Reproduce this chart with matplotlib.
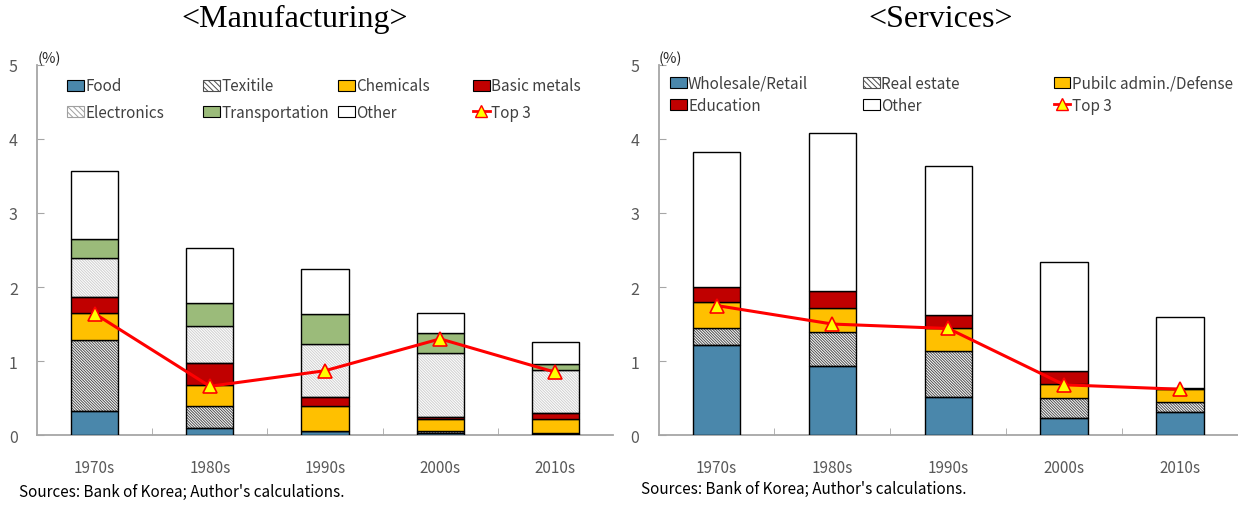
import numpy as np
import matplotlib
matplotlib.use("Agg")
import matplotlib.pyplot as plt
from matplotlib.patches import Patch
from matplotlib.lines import Line2D

plt.rcParams['font.family'] = ['Noto Sans CJK KR', 'DejaVu Sans']
plt.rcParams['hatch.linewidth'] = 0.7

decades = ['1970s', '1980s', '1990s', '2000s', '2010s']

# Manufacturing (stacked contributions, %)
food = [0.33, 0.10, 0.06, 0.03, 0.01]
textile = [0.95, 0.29, 0.00, 0.03, 0.02]
chemicals = [0.37, 0.29, 0.34, 0.16, 0.19]
basic_metals = [0.21, 0.29, 0.11, 0.03, 0.08]
electronics = [0.53, 0.50, 0.72, 0.86, 0.58]
transportation = [0.26, 0.31, 0.40, 0.27, 0.08]
other_mfg = [0.92, 0.75, 0.61, 0.27, 0.30]
top3_mfg = [1.64, 0.66, 0.87, 1.30, 0.85]

# Services (stacked contributions, %)
wholesale = [1.22, 0.94, 0.51, 0.23, 0.31]
real_estate = [0.22, 0.45, 0.62, 0.27, 0.14]
public_admin = [0.36, 0.32, 0.31, 0.19, 0.17]
education = [0.20, 0.23, 0.18, 0.18, 0.02]
other_svc = [1.82, 2.14, 2.01, 1.47, 0.96]
top3_svc = [1.75, 1.50, 1.44, 0.68, 0.62]

BLUE = '#4a87ab'
YELLOW = '#ffc000'
RED = '#c00000'
GREEN = '#9bbb7a'
TICKC = '#595959'
SPINEC = '#a6a6a6'
DENSE = '\\' * 12

# (label, values, face, hatch, hatch colour)
mfg_series = [
    ('Food', food, BLUE, None, None),
    ('Texitile', textile, 'white', DENSE, '#4d4d4d'),
    ('Chemicals', chemicals, YELLOW, None, None),
    ('Basic metals', basic_metals, RED, None, None),
    ('Electronics', electronics, 'white', DENSE, '#cfcfcf'),
    ('Transportation', transportation, GREEN, None, None),
    ('Other', other_mfg, 'white', None, None),
]
svc_series = [
    ('Wholesale/Retail', wholesale, BLUE, None, None),
    ('Real estate', real_estate, 'white', DENSE, '#4d4d4d'),
    ('Pubilc admin./Defense', public_admin, YELLOW, None, None),
    ('Education', education, RED, None, None),
    ('Other', other_svc, 'white', None, None),
]

fig = plt.figure(figsize=(12.38, 5.06), dpi=100)
ax1 = fig.add_axes([0.030, 0.138, 0.465, 0.732])
ax2 = fig.add_axes([0.532, 0.138, 0.468, 0.732])


def handle_for(face, hatch, hcol):
    if hatch:
        return Patch(facecolor='white', edgecolor=hcol if hcol != '#cfcfcf' else '#a0a0a0',
                     hatch='\\' * 6, linewidth=0.8)
    return Patch(facecolor=face, edgecolor='black', linewidth=0.8)


def draw_panel(ax, series, top3):
    x = np.arange(len(decades))
    bottom = np.zeros(len(decades))
    handles = []
    for label, vals, face, hatch, hcol in series:
        vals = np.array(vals)
        if hatch:
            ax.bar(x, vals, 0.41, bottom=bottom, color='white', edgecolor=hcol,
                   hatch=hatch, linewidth=0, zorder=2)
            ax.bar(x, vals, 0.41, bottom=bottom, color='none', edgecolor='black',
                   linewidth=1.0, zorder=3)
        else:
            ax.bar(x, vals, 0.41, bottom=bottom, color=face, edgecolor='black',
                   linewidth=1.0, zorder=3)
        bottom = bottom + vals
        handles.append((label, handle_for(face, hatch, hcol)))
    ax.plot(x, top3, color='#ff0000', lw=2.2, marker='^', markersize=10,
            markerfacecolor='#ffff00', markeredgecolor='#ff0000', markeredgewidth=1.2,
            zorder=5)
    handles.append(('Top 3', Line2D([], [], color='#ff0000', lw=2, marker='^', markersize=9,
                                    markerfacecolor='#ffff00', markeredgecolor='#ff0000')))

    ax.set_xlim(-0.5, len(decades) - 0.5)
    ax.set_ylim(0, 5)
    ax.set_yticks([0, 1, 2, 3, 4, 5])
    ax.set_xticks(x)
    ax.set_xticklabels(decades)
    ax.set_xticks(np.arange(0.5, len(decades) - 0.5), minor=True)
    ax.tick_params(axis='x', which='major', length=0, pad=17, labelsize=11, labelcolor=TICKC)
    ax.tick_params(axis='x', which='minor', direction='in', length=5, color=SPINEC)
    ax.tick_params(axis='y', direction='in', length=5, color=SPINEC, pad=14,
                   labelsize=11.5, labelcolor=TICKC)
    for s in ['top', 'right']:
        ax.spines[s].set_visible(False)
    for s in ['left', 'bottom']:
        ax.spines[s].set_color(SPINEC)
        ax.spines[s].set_linewidth(1.3)
    ax.text(0.0, 1.0, '(%)', transform=ax.transAxes, fontsize=10.5, color='#262626',
            ha='left', va='bottom')
    return handles


def place_legend(entries, x0, y0, spacing):
    fig.legend([h for _, h in entries], [l for l, _ in entries],
               loc='upper left', bbox_to_anchor=(x0, y0),
               frameon=False, fontsize=11, handlelength=1.1, handleheight=0.75,
               handletextpad=0.1, labelspacing=spacing, borderpad=0, borderaxespad=0,
               labelcolor='#404040')


h1 = draw_panel(ax1, mfg_series, top3_mfg)
h2 = draw_panel(ax2, svc_series, top3_svc)

# left legend: 4 columns x 2 rows
order1 = [[0, 4], [1, 5], [2, 6], [3, 7]]
cols1 = [0.054, 0.164, 0.273, 0.382]
for xc, idx in zip(cols1, order1):
    place_legend([h1[i] for i in idx], xc, 0.845, 0.62)

# right legend: 3 columns x 2 rows
order2 = [[0, 3], [1, 4], [2, 5]]
cols2 = [0.541, 0.697, 0.851]
for xc, idx in zip(cols2, order2):
    place_legend([h2[i] for i in idx], xc, 0.850, 0.33)

fig.text(0.238, 0.962, '<Manufacturing>', family='Liberation Serif', fontsize=23,
         ha='center', va='center')
fig.text(0.760, 0.962, '<Services>', family='Liberation Serif', fontsize=23,
         ha='center', va='center')
fig.text(0.015, 0.026, "Sources: Bank of Korea; Author's calculations.", fontsize=11,
         ha='left', va='center')
fig.text(0.518, 0.032, "Sources: Bank of Korea; Author's calculations.", fontsize=11,
         ha='left', va='center')

fig.savefig('out.png', dpi=100)
